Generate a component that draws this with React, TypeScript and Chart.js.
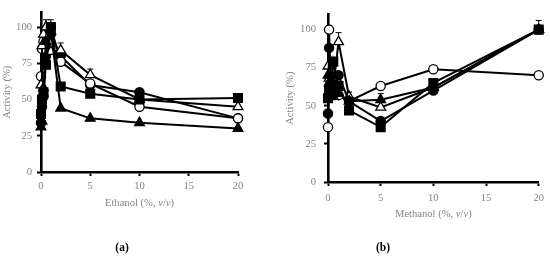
import React, { useEffect, useRef } from "react";
import { Chart, registerables } from "chart.js";

Chart.register(...registerables);

// ---------- data ----------
const concX = [0, 0.1, 0.25, 0.5, 1, 2, 5, 10, 20];
const xTicks = [0, 5, 10, 15, 20];
const yTicks = [0, 25, 50, 75, 100];

// Ethanol panel (a)
const ethSquareFilled = [40, 50, 55, 74, 100, 59, 54, 50, 51];
const ethTriangleFilled = [31, 35, 58, 90, 97, 44, 37, 34, 30];
const ethTriangleOpen = [60, 87, 95, 100, 83, 84, 67, 50, 45];
const ethCircleOpen = [66, 85, 90, 97, 100, 76, 61, 45, 37];
const ethCircleFilled = [34, 45, 52, 80, 95, 80, 60, 55, 37];
const ethSquareErr = [0, 0, 0, 0, 5, 0, 0, 0, 0];
const ethTriangleOpenErr = [0, 0, 0, 5, 0, 5, 4, 0, 0];

// Methanol panel (b)
const metSquareFilled = [55, 60, 57, 79, 63, 47, 36, 65, 100];
const metCircleFilled = [45, 88, 70, 62, 70, 53, 40, 60, 100];
const metCircleOpen = [36, 100, 66, 60, 57, 53, 63, 74, 70];
const metTriangleOpen = [76, 68, 65, 62, 92, 56, 49, 62, 100];
const metTriangleFilled = [70, 65, 60, 56, 58, 53, 54, 62, 100];
const metSquareErr = [0, 0, 0, 0, 0, 0, 0, 0, 6];
const metTriangleOpenErr = [0, 0, 0, 0, 6, 3, 0, 0, 0];
const metTriangleFilledErr = [0, 0, 0, 0, 0, 0, 4, 0, 0];

const GRAY = "#858585";
const SERIF = '"Liberation Serif", "DejaVu Serif", serif';

type Series = { values: number[]; style: string; filled: boolean; err?: number[] };

function makeDatasets(series: Series[]) {
  return series.map((s) => {
    const radius = s.style === "rect" ? 6.2 : s.style === "triangle" ? 5.6 : 4.6;
    return {
      data: concX.map((x, i) => ({ x, y: s.values[i] })),
      borderColor: "#000",
      borderWidth: 2,
      pointStyle: s.style,
      pointRadius: radius,
      pointBorderWidth: 1.3,
      pointBorderColor: "#000",
      pointBackgroundColor: s.filled ? "#000" : "#fff",
      clip: false as any,
      err: s.err,
    } as any;
  });
}

const errorBarPlugin = {
  id: "errorBars",
  beforeDatasetsDraw(chart: any) {
    const ctx = chart.ctx;
    const yScale = chart.scales.y;
    ctx.save();
    ctx.strokeStyle = "#000";
    ctx.lineWidth = 1;
    chart.data.datasets.forEach((ds: any, di: number) => {
      if (!ds.err) return;
      const meta = chart.getDatasetMeta(di);
      ds.err.forEach((e: number, i: number) => {
        if (!e) return;
        const pt = meta.data[i];
        const yTop = yScale.getPixelForValue(ds.data[i].y + e);
        ctx.beginPath();
        ctx.moveTo(pt.x, pt.y);
        ctx.lineTo(pt.x, yTop);
        ctx.moveTo(pt.x - 3, yTop);
        ctx.lineTo(pt.x + 3, yTop);
        ctx.stroke();
      });
    });
    ctx.restore();
  },
};

function textPlugin(word: string, titleY: number, label: string, labelX: number, labelY: number) {
  const parts: [string, boolean][] = [
    [word + " (%, ", false],
    ["v", true],
    ["/", false],
    ["v", true],
    [")", false],
  ];
  return {
    id: "extraText",
    afterDraw(chart: any) {
      const ctx = chart.ctx;
      const { left, right } = chart.chartArea;
      ctx.save();
      ctx.fillStyle = GRAY;
      ctx.textBaseline = "middle";
      ctx.textAlign = "left";
      const fontOf = (it: boolean) => `${it ? "italic " : ""}10.6px ${SERIF}`;
      let total = 0;
      parts.forEach(([t, it]) => {
        ctx.font = fontOf(it);
        total += ctx.measureText(t).width;
      });
      let x = (left + right) / 2 - total / 2;
      parts.forEach(([t, it]) => {
        ctx.font = fontOf(it);
        ctx.fillText(t, x, titleY);
        x += ctx.measureText(t).width;
      });
      ctx.fillStyle = "#000";
      ctx.textAlign = "center";
      ctx.font = `bold 11.5px ${SERIF}`;
      ctx.fillText(label, labelX, labelY);
      ctx.restore();
    },
  };
}

type PanelCfg = {
  series: Series[];
  word: string;
  label: string;
  yWidth: number;
  yTitlePad: number;
  yLabelPad: number;
  xLabelPad: number;
  padTop: number;
  padRight: number;
  padBottom: number;
  titleY: number;
  labelX: number;
  labelY: number;
};

function Panel({ cfg }: { cfg: PanelCfg }) {
  const ref = useRef<HTMLCanvasElement | null>(null);
  useEffect(() => {
    if (!ref.current) return;
    const chart = new Chart(ref.current, {
      type: "line",
      data: { datasets: makeDatasets(cfg.series) },
      options: {
        animation: false,
        responsive: false,
        devicePixelRatio: 1,
        layout: { padding: { left: 0, top: cfg.padTop, right: cfg.padRight, bottom: cfg.padBottom } },
        plugins: { legend: { display: false }, tooltip: { enabled: false } },
        scales: {
          x: {
            type: "linear",
            min: 0,
            max: 20,
            afterBuildTicks: (s: any) => {
              s.ticks = xTicks.map((v) => ({ value: v }));
            },
            afterFit: (s: any) => {
              s.height = 30;
            },
            ticks: { color: GRAY, font: { family: SERIF, size: 10.6 }, padding: cfg.xLabelPad, maxRotation: 0 },
            grid: { display: true, drawOnChartArea: false, tickLength: 4, tickColor: "#000", tickWidth: 2 },
            border: { display: true, color: "#000", width: 2.6 },
          },
          y: {
            type: "linear",
            min: 0,
            max: 110,
            afterBuildTicks: (s: any) => {
              s.ticks = yTicks.map((v) => ({ value: v }));
            },
            afterFit: (s: any) => {
              s.width = cfg.yWidth;
            },
            ticks: { color: GRAY, font: { family: SERIF, size: 10.6 }, padding: cfg.yLabelPad },
            grid: { display: true, drawOnChartArea: false, tickLength: 4, tickColor: "#000", tickWidth: 2 },
            border: { display: true, color: "#000", width: 2.6 },
            title: {
              display: true,
              text: "Activity (%)",
              color: GRAY,
              font: { family: SERIF, size: 10.6 },
              padding: { top: cfg.yTitlePad, bottom: 0 },
            },
          },
        },
      } as any,
      plugins: [errorBarPlugin, textPlugin(cfg.word, cfg.titleY, cfg.label, cfg.labelX, cfg.labelY)],
    });
    return () => chart.destroy();
  }, []);
  return <canvas ref={ref} width={275} height={257} style={{ display: "block", width: 275, height: 257 }} />;
}

const panelA: PanelCfg = {
  series: [
    { values: ethSquareFilled, style: "rect", filled: true, err: ethSquareErr },
    { values: ethTriangleFilled, style: "triangle", filled: true },
    { values: ethTriangleOpen, style: "triangle", filled: false, err: ethTriangleOpenErr },
    { values: ethCircleOpen, style: "circle", filled: false },
    { values: ethCircleFilled, style: "circle", filled: true },
  ],
  word: "Ethanol",
  label: "(a)",
  yWidth: 41,
  yTitlePad: 0.5,
  yLabelPad: 5,
  xLabelPad: 4,
  padTop: 12.5,
  padRight: 37,
  padBottom: 55,
  titleY: 203,
  labelX: 122,
  labelY: 248,
};

const panelB: PanelCfg = {
  series: [
    { values: metSquareFilled, style: "rect", filled: true, err: metSquareErr },
    { values: metCircleFilled, style: "circle", filled: true },
    { values: metTriangleFilled, style: "triangle", filled: true, err: metTriangleFilledErr },
    { values: metTriangleOpen, style: "triangle", filled: false, err: metTriangleOpenErr },
    { values: metCircleOpen, style: "circle", filled: false },
  ],
  word: "Methanol",
  label: "(b)",
  yWidth: 53,
  yTitlePad: 8.5,
  yLabelPad: 8,
  xLabelPad: 6,
  padTop: 2,
  padRight: 8,
  padBottom: 45,
  titleY: 214,
  labelX: 108,
  labelY: 248,
};

export default function App() {
  return (
    <div
      style={{
        position: "absolute",
        left: 0,
        top: 0,
        width: 550,
        height: 257,
        background: "#fff",
        display: "flex",
        flexDirection: "row",
      }}
    >
      <Panel cfg={panelA} />
      <Panel cfg={panelB} />
    </div>
  );
}
